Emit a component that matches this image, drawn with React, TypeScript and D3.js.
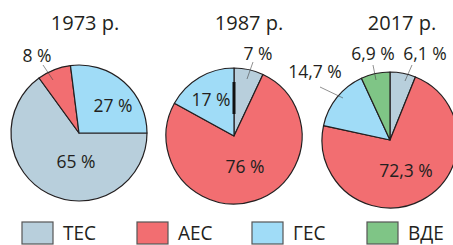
import React, { useEffect, useRef } from 'react'
import * as d3 from 'd3'

const categories = ['ТЕС', 'АЕС', 'ГЕС', 'ВДЕ']
const colors = ['#b8cfdc', '#f26e71', '#a0dcf7', '#7fc586']
const years = ['1973 р.', '1987 р.', '2017 р.']
const shares1973 = [65, 8, 27]
const shares1987 = [7, 76, 17]
const shares2017 = [6.1, 72.3, 14.7, 6.9]

// layout of each pie: center, start angle, title x, label offsets and leader lines
const pies = [
  {
    values: shares1973,
    cx: 79, cy: 133, start: Math.PI / 2, titleX: 85,
    labels: [[-3, 35], [-42, -71], [34, -21]],
    leaders: [null, [-36, -68, -26, -53], null],
  },
  {
    values: shares1987,
    cx: 234, cy: 136, start: 0, titleX: 249,
    labels: [[24, -76], [11, 37], [-23, -30]],
    leaders: [[19, -74, 13, -57], null, null],
  },
  {
    values: shares2017,
    cx: 390, cy: 140, start: 0, titleX: 402,
    labels: [[35, -80], [16, 37], [-75, -62], [-17, -80]],
    leaders: [[22, -75, 15, -59], null, [-70, -53, -47, -42], [-17, -75, -14, -60]],
  },
]

const fmt = (v: number) => d3.format('~f')(v).replace('.', ',') + ' %'

const App = () => {
  const ref = useRef<SVGSVGElement>(null)

  useEffect(() => {
    const svg = d3.select(ref.current)
    svg.selectAll('*').remove()
    const font = "'Open Sans', sans-serif"
    const radius = 68
    const arc = d3.arc<d3.PieArcDatum<number>>().innerRadius(0).outerRadius(radius)

    pies.forEach((p, i) => {
      const pie = d3
        .pie<number>()
        .sort(null)
        .value(d => d)
        .startAngle(p.start)
        .endAngle(p.start + Math.PI * 2)
      const g = svg.append('g').attr('transform', `translate(${p.cx},${p.cy})`)

      g.selectAll('path')
        .data(pie(p.values))
        .enter()
        .append('path')
        .attr('d', arc)
        .attr('fill', (d, j) => colors[j])
        .attr('stroke', '#231f20')
        .attr('stroke-width', 1.2)
        .attr('stroke-linejoin', 'round')

      // odd thick mark on the 1987 pie
      if (i === 1) {
        g.append('line')
          .attr('x1', 0).attr('y1', -22)
          .attr('x2', 0).attr('y2', -54)
          .attr('stroke', '#111')
          .attr('stroke-width', 3)
      }

      p.leaders.forEach(l => {
        if (!l) return
        g.append('line')
          .attr('x1', l[0]).attr('y1', l[1])
          .attr('x2', l[2]).attr('y2', l[3])
          .attr('stroke', '#444')
          .attr('stroke-width', 0.6)
      })

      p.values.forEach((v, j) => {
        g.append('text')
          .attr('x', p.labels[j][0])
          .attr('y', p.labels[j][1])
          .attr('text-anchor', 'middle')
          .attr('font-family', font)
          .attr('font-size', 17.5)
          .attr('fill', '#231f20')
          .text(fmt(v))
      })

      svg.append('text')
        .attr('x', p.titleX)
        .attr('y', 30)
        .attr('text-anchor', 'middle')
        .attr('font-family', font)
        .attr('font-size', 20)
        .attr('fill', '#231f20')
        .text(years[i])
    })

    const legendX = d3.scaleOrdinal<string, number>().domain(categories).range([22, 137, 252, 367])
    const lg = svg.selectAll('g.legend')
      .data(categories)
      .enter()
      .append('g')
      .attr('class', 'legend')
      .attr('transform', d => `translate(${legendX(d)},222)`)
    lg.append('rect')
      .attr('width', 31)
      .attr('height', 22)
      .attr('fill', (d, j) => colors[j])
      .attr('stroke', '#555')
      .attr('stroke-width', 1.2)
    lg.append('text')
      .attr('x', 41)
      .attr('y', 17.5)
      .attr('font-family', font)
      .attr('font-size', 20)
      .attr('fill', '#231f20')
      .text(d => d)
      .each(function () {
        // the legend face is narrower than Open Sans
        const w = (this as SVGTextElement).getComputedTextLength()
        d3.select(this).attr('textLength', w * 0.95).attr('lengthAdjust', 'spacingAndGlyphs')
      })
  }, [])

  return (
    <svg
      ref={ref}
      width={453}
      height={245}
      style={{ position: 'absolute', left: 0, top: 0, background: '#fff' }}
    />
  )
}

export default App
